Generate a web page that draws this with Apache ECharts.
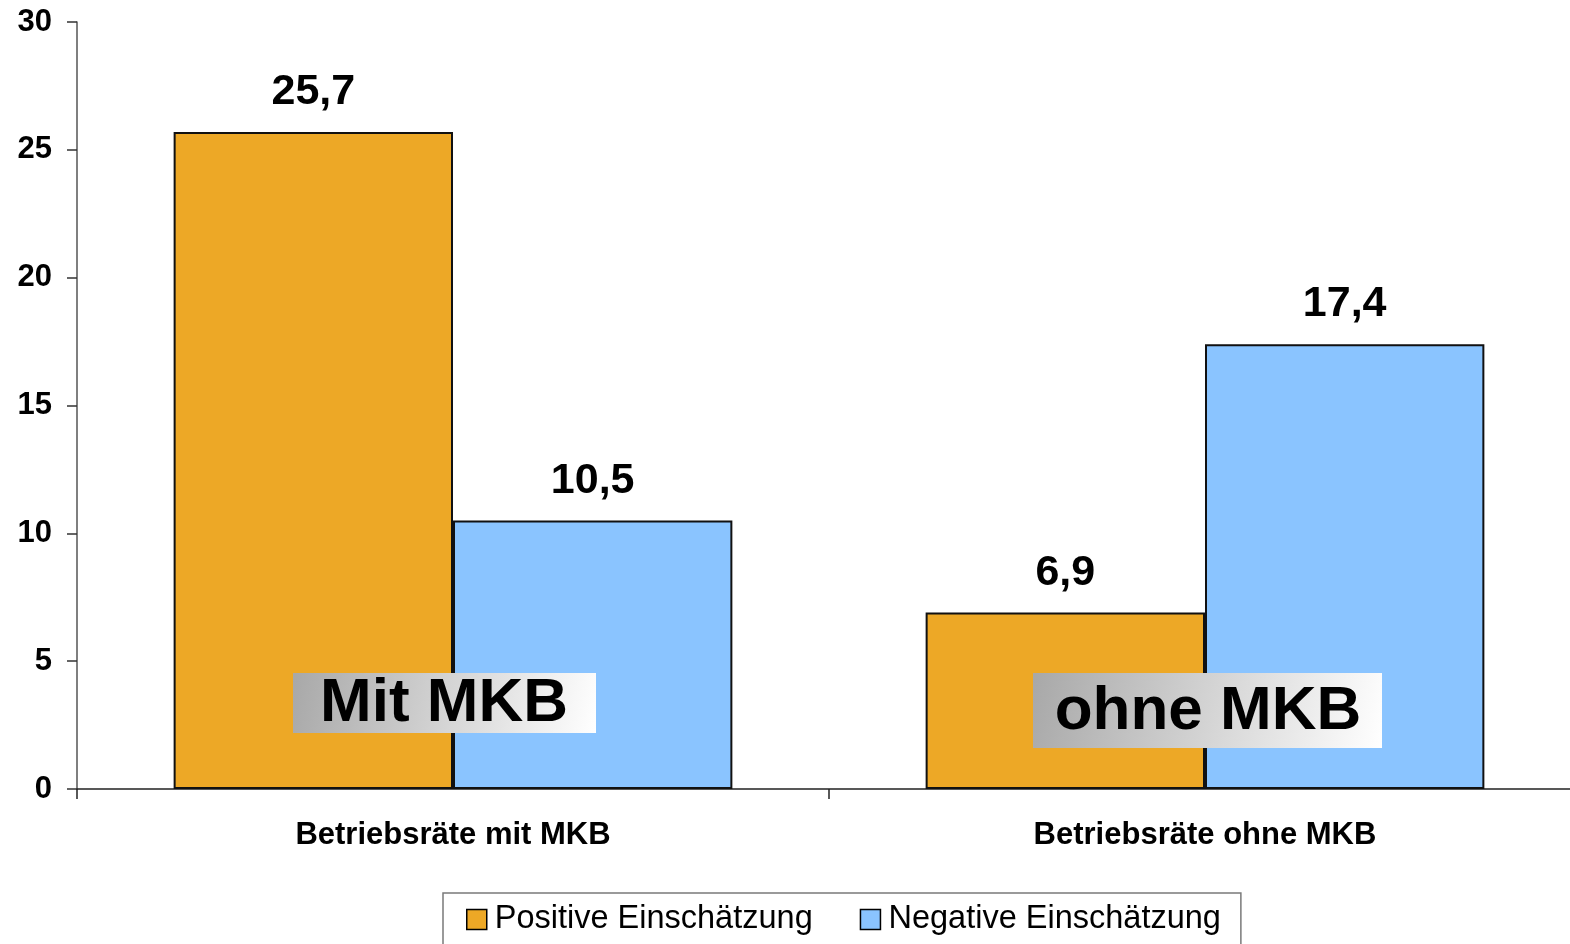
<!DOCTYPE html>
<html>
<head>
<meta charset="utf-8">
<script src="https://cdn.jsdelivr.net/npm/echarts@6/dist/echarts.min.js"></script>
<style>
  html, body { margin: 0; padding: 0; background: #fff; }
  #chart { width: 1570px; height: 944px; }
</style>
</head>
<body>
<div id="chart"></div>
<script>
const categories = ['Betriebsräte mit MKB', 'Betriebsräte ohne MKB'];
const positive = [25.7, 6.9];
const negative = [10.5, 17.4];
const seriesNames = ['Positive Einschätzung', 'Negative Einschätzung'];
const overlayLabels = ['Mit MKB', 'ohne MKB'];

const font = '"Liberation Sans", Arial, sans-serif';
const chart = echarts.init(document.getElementById('chart'));

const fmt = v => String(v).replace('.', ',');

const barLabel = {
  show: true,
  position: 'top',
  distance: 18,
  fontFamily: font,
  fontWeight: 'bold',
  fontSize: 43,
  color: '#000',
  formatter: p => fmt(p.value)
};

const grad = {
  type: 'linear', x: 0, y: 0, x2: 1, y2: 1,
  colorStops: [{ offset: 0, color: '#a8a8a8' }, { offset: 1, color: '#ffffff' }]
};

chart.setOption({
  animation: false,
  backgroundColor: '#fff',
  grid: { left: 77, width: 1504, top: 22, bottom: 155, outerBoundsMode: 'none' },
  legend: {
    data: seriesNames,
    left: 443,
    top: 893,
    orient: 'horizontal',
    icon: 'rect',
    padding: [10, 20, 30, 23],
    borderColor: '#7a7a7a',
    borderWidth: 1.5,
    itemWidth: 20,
    itemHeight: 20,
    itemGap: 47,
    itemStyle: { borderColor: '#000', borderWidth: 1.5 },
    textStyle: { fontFamily: font, fontSize: 32.5, color: '#000', padding: [0, 0, 0, 3] }
  },
  xAxis: {
    type: 'category',
    data: categories,
    axisLine: { lineStyle: { color: '#222', width: 1.5 } },
    axisTick: { show: true, length: 10, lineStyle: { color: '#222', width: 1.5 } },
    axisLabel: { margin: 31, fontFamily: font, fontWeight: 'bold', fontSize: 31, color: '#000' }
  },
  yAxis: {
    type: 'value',
    min: 0,
    max: 30,
    interval: 5,
    splitLine: { show: false },
    axisLine: { show: true, lineStyle: { color: '#555', width: 1.5 } },
    axisTick: { show: true, length: 10, lineStyle: { color: '#333', width: 1.5 } },
    axisLabel: { margin: 25, fontFamily: font, fontWeight: 'bold', fontSize: 31, color: '#000' }
  },
  series: [
    {
      name: seriesNames[0],
      type: 'bar',
      data: positive,
      barGap: '0%',
      barCategoryGap: '25.7%',
      itemStyle: { color: '#EDA826', borderColor: '#111', borderWidth: 2 },
      label: barLabel
    },
    {
      name: seriesNames[1],
      type: 'bar',
      data: negative,
      itemStyle: { color: '#8AC4FF', borderColor: '#111', borderWidth: 2 },
      label: barLabel
    }
  ],
  graphic: [
    {
      type: 'group', left: 293, top: 673, z: 100,
      children: [
        { type: 'rect', z: 100, shape: { x: 0, y: 0, width: 303, height: 60 }, style: { fill: grad } },
        { type: 'text', z: 101, x: 151, y: 31, style: { text: overlayLabels[0], font: 'bold 62px ' + font, fill: '#000', textAlign: 'center', textVerticalAlign: 'middle' } }
      ]
    },
    {
      type: 'group', left: 1033, top: 673, z: 100,
      children: [
        { type: 'rect', z: 100, shape: { x: 0, y: 0, width: 349, height: 75 }, style: { fill: grad } },
        { type: 'text', z: 101, x: 175, y: 39, style: { text: overlayLabels[1], font: 'bold 62px ' + font, fill: '#000', textAlign: 'center', textVerticalAlign: 'middle' } }
      ]
    }
  ]
});
</script>
</body>
</html>
